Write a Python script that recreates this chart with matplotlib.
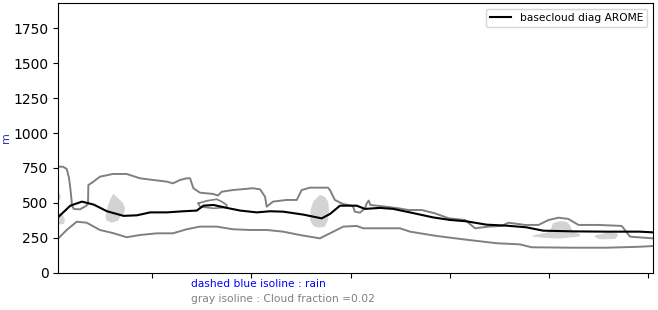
import matplotlib
matplotlib.use("Agg")
import matplotlib.pyplot as plt

# basecloud diag AROME (x in hours, y in m)
base_x = [0.32, 1.03, 1.73, 2.44, 3.25, 4.25, 5.06, 5.87, 6.88, 7.88, 8.69, 9.09, 9.70,
          10.51, 11.31, 12.32, 13.13, 13.93, 15.14, 16.25, 16.76, 17.36, 17.97, 18.37,
          18.87, 19.78, 20.58, 21.59, 23.00, 24.01, 25.02, 26.23, 27.44, 28.65, 29.66,
          31.47, 33.49, 35.51, 36.31]
base_y = [401, 480, 509, 488, 440, 407, 411, 432, 432, 440, 445, 480, 485,
          464, 445, 432, 440, 437, 416, 389, 421, 480, 480, 480,
          457, 464, 457, 432, 396, 378, 368, 344, 337, 325, 301,
          296, 294, 294, 289]

# cloud fraction 0.02 isolines
low_x = [0.30, 0.81, 1.41, 2.02, 2.82, 3.61, 4.44, 5.25, 6.26, 7.24, 8.07, 8.88, 9.89,
         10.89, 11.90, 12.92, 13.92, 14.93, 16.14, 16.75, 17.56, 18.37, 18.77, 20.99,
         21.60, 23.22, 24.83, 26.85, 28.25, 28.97, 31.49, 33.52, 35.53, 36.30]
low_y = [246, 306, 365, 358, 306, 284, 254, 270, 282, 282, 311, 330, 330,
         311, 306, 306, 294, 270, 246, 282, 330, 335, 318, 318,
         294, 263, 239, 211, 203, 182, 179, 179, 186, 191]

up_x = [0.30, 0.58, 0.81, 0.95, 1.04, 1.10, 1.13, 1.25, 1.61, 1.98, 2.10, 2.12, 2.32,
        2.83, 3.61, 4.44, 5.25, 6.04, 6.87, 7.25, 7.67, 8.08, 8.28, 8.48, 8.88, 9.67,
        9.97, 10.20, 10.88, 12.09, 12.52, 12.82, 12.92, 13.30, 14.13, 14.74, 15.04,
        15.54, 16.14, 16.63, 16.75, 17.05, 17.54, 18.14, 18.26, 18.57, 18.87, 18.98,
        19.10, 19.20, 20.11, 20.91, 21.52, 22.31, 23.12, 23.93, 24.94, 25.54, 26.35,
        27.15, 27.56, 28.57, 29.38, 29.98, 30.59, 31.19, 31.80, 33.01, 34.42, 34.93,
        36.30]
up_y = [759, 759, 743, 678, 592, 521, 478, 456, 454, 478, 492, 628, 643,
        688, 707, 707, 676, 664, 652, 640, 664, 676, 676, 605, 573, 564,
        553, 580, 592, 605, 597, 544, 473, 509, 521, 521, 592,
        609, 609, 609, 592, 521, 492, 478, 437, 430, 461, 497,
        516, 485, 473, 461, 449, 449, 425, 390, 377, 318, 330,
        335, 358, 342, 342, 377, 394, 385, 342, 342, 335, 258,
        246]

loop_x = [8.78, 9.30, 9.89, 10.20, 10.50, 10.50, 9.69, 8.88, 8.78]
loop_y = [497, 515, 526, 509, 485, 468, 461, 473, 497]

# light gray patches
blobs = [
    ([3.63, 3.93, 4.23, 4.34, 4.28, 4.04, 3.93, 3.53, 3.23, 3.15, 3.23, 3.43],
     [564, 533, 497, 461, 425, 401, 372, 358, 372, 401, 449, 521]),
    ([16.14, 16.44, 16.64, 16.70, 16.64, 16.44, 16.04, 15.74, 15.54, 15.58, 15.74],
     [557, 544, 509, 449, 377, 330, 322, 335, 377, 449, 509]),
    ([29.02, 29.76, 30.07, 30.26, 30.67, 31.07, 31.27, 31.47, 31.88, 31.88, 30.67, 29.76, 29.02],
     [266, 284, 294, 354, 370, 365, 342, 294, 277, 259, 245, 249, 259]),
    ([32.79, 33.39, 33.70, 34.12, 34.20, 34.00, 33.09, 32.79],
     [266, 284, 294, 284, 263, 241, 239, 256]),
    ([0.30, 0.30, 0.40, 0.45, 0.40], [520, 575, 565, 540, 520]),
    ([0.30, 0.30, 0.55, 0.70, 0.65], [345, 425, 420, 380, 350]),
]

fig = plt.figure(figsize=(6.58, 3.10), dpi=100)
ax = fig.add_axes([0.0886, 0.1203, 0.9034, 0.8690])

for bx, by in blobs:
    ax.fill(bx, by, color="lightgray", lw=0)

ax.plot(low_x, low_y, color="gray", lw=1.4)
ax.plot(up_x, up_y, color="gray", lw=1.4)
ax.plot(loop_x, loop_y, color="gray", lw=1.2)
ax.plot(base_x, base_y, color="black", lw=1.5, label="basecloud diag AROME")

ax.set_xlim(0.3, 36.3)
ax.set_ylim(0, 1929)
ax.set_xticks([6, 12, 18, 24, 30, 36])
ax.set_xticklabels([])
ax.set_yticks([0, 250, 500, 750, 1000, 1250, 1500, 1750])
ax.set_ylabel("m", color="#3333aa", fontsize=8)
ax.yaxis.set_label_coords(-0.08, 0.5)
ax.legend(loc="upper right", fontsize=7.7)

fig.text(0.291, 0.084, "dashed blue isoline : rain", color="blue", fontsize=7.7, va="center")
fig.text(0.291, 0.035, "gray isoline : Cloud fraction =0.02", color="gray", fontsize=7.7, va="center")

fig.savefig("out.png", dpi=100)
